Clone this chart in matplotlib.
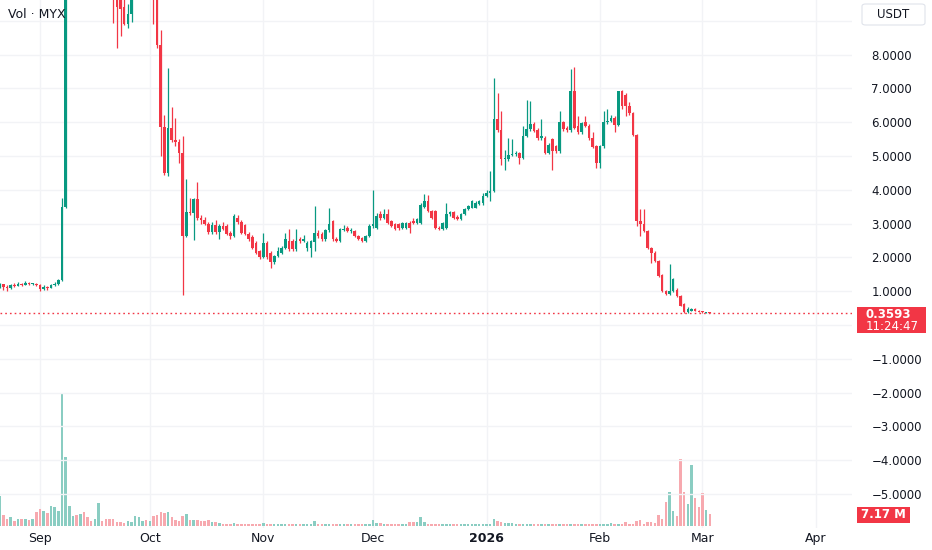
import numpy as np
import pandas as pd
import matplotlib
matplotlib.use("Agg")
import matplotlib.pyplot as plt
import matplotlib.dates as mdates
from matplotlib.patches import Rectangle, FancyBboxPatch

# ---------------- data ----------------
start_date = "2025-08-21"

opens = [1.15,1.20,1.12,1.08,1.18,1.16,1.22,1.19,1.24,1.20,1.22,1.18,1.06,1.12,1.10,1.18,1.22,1.32,3.50,11.5,
         14.0,15.0,13.0,14.5,13.0,12.0,11.5,12.5,15.0,13.5,12.0,11.0,10.2,9.7,9.4,8.9,9.2,10.5,11.5,13.0,
         14.0,13.0,13.5,10.5,8.29,5.87,4.5,5.83,5.47,5.4,5.1,2.63,3.35,3.30,3.72,3.18,3.10,2.98,2.74,2.95,
         2.74,2.93,2.93,2.73,2.62,3.18,3.05,2.95,2.68,2.60,2.44,2.19,2.0,2.44,2.14,1.85,2.04,2.14,2.29,2.49,
         2.49,2.24,2.54,2.49,2.29,2.29,2.45,2.73,2.70,2.54,2.80,3.07,2.54,2.49,2.82,2.88,2.78,2.78,2.63,2.58,
         2.49,2.63,2.93,2.88,3.27,3.18,3.27,3.08,2.98,2.98,2.86,2.88,3.03,3.08,3.03,3.03,3.50,3.67,3.37,3.37,
         2.88,2.85,2.88,3.27,3.34,3.20,3.13,3.27,3.44,3.47,3.47,3.57,3.62,3.81,3.91,3.96,6.10,5.78,4.90,4.90,
         5.04,5.07,5.09,4.95,5.60,5.80,5.96,5.78,5.52,5.54,5.09,5.49,5.29,5.14,6.0,5.83,5.76,6.91,5.88,5.70,
         6.0,5.90,5.52,5.29,4.80,5.29,6.0,6.05,6.13,5.93,6.91,6.80,6.47,6.27,5.63,3.08,2.98,2.78,2.29,2.14,
         1.90,1.48,1.01,0.91,1.01,1.05,0.86,0.62,0.37,0.42,0.48,0.42,0.38,0.36,0.37]
highs = [1.25,1.22,1.18,1.22,1.24,1.27,1.25,1.30,1.26,1.25,1.24,1.20,1.18,1.16,1.22,1.26,1.35,3.75,12.0,14.5,
         15.5,15.8,15.0,15.0,13.5,12.5,13.0,16.0,15.5,14.0,12.5,11.5,10.5,10.0,9.8,9.5,10.8,12.0,13.5,14.5,
         14.5,14.0,14.0,11.0,8.73,6.2,7.6,6.45,6.13,5.5,5.6,4.33,3.77,3.75,4.22,3.25,3.20,3.05,3.05,3.10,
         2.98,3.05,2.98,2.78,3.27,3.25,3.10,3.0,2.75,2.65,2.50,2.22,2.73,2.48,2.18,2.08,2.30,2.35,2.73,2.83,
         2.55,2.83,2.60,2.65,2.50,2.52,3.52,2.80,2.75,2.85,3.45,3.10,2.60,2.88,2.95,2.92,2.88,2.82,2.66,2.60,
         2.66,3.0,3.99,3.30,3.37,3.44,3.44,3.12,3.02,3.02,3.06,3.06,3.08,3.18,3.16,3.60,3.88,3.85,3.40,3.40,
         2.92,3.06,3.62,3.38,3.38,3.25,3.30,3.47,3.55,3.70,3.66,3.70,3.90,4.0,4.55,7.31,6.86,6.32,5.19,5.54,
         5.49,5.15,5.12,5.88,6.67,6.62,6.0,5.82,6.10,5.60,5.38,5.52,5.32,6.32,6.05,5.88,7.58,7.63,6.17,6.02,
         6.17,5.95,5.70,5.32,5.32,6.32,6.40,6.20,6.17,6.93,6.96,6.86,6.59,6.30,5.66,3.44,3.44,2.82,2.32,2.18,
         1.93,1.52,1.05,1.80,1.40,1.08,0.90,0.65,0.52,0.50,0.50,0.44,0.40,0.38,0.375]
lows = [1.10,1.05,1.02,1.06,1.12,1.14,1.16,1.17,1.17,1.18,1.15,1.00,1.03,1.05,1.08,1.15,1.18,1.30,3.45,11.0,
        13.5,12.5,12.5,12.8,11.5,11.0,11.2,12.2,13.0,11.8,10.5,8.94,8.2,8.55,8.88,8.8,8.95,10.2,11.0,12.5,
        12.5,12.0,8.9,8.2,4.99,4.45,4.42,5.4,5.3,4.8,0.88,2.6,3.25,2.52,3.1,3.0,2.95,2.70,2.68,2.70,
        2.54,2.80,2.65,2.55,2.60,3.0,2.70,2.65,2.48,2.25,2.10,1.95,1.97,1.95,1.70,1.80,2.0,2.10,2.25,2.20,
        2.20,2.20,2.44,2.45,2.20,2.0,2.20,2.58,2.50,2.50,2.75,2.50,2.45,2.45,2.78,2.74,2.72,2.60,2.52,2.45,
        2.46,2.60,2.88,2.85,3.12,3.15,3.0,2.90,2.80,2.82,2.84,2.85,2.73,3.0,3.0,3.0,3.45,3.35,3.15,2.85,
        2.80,2.82,2.85,3.22,3.15,3.10,3.10,3.25,3.40,3.45,3.45,3.55,3.55,3.78,3.67,3.94,5.70,4.72,4.60,4.85,
        5.0,5.0,4.77,4.92,5.55,5.75,5.70,5.48,5.48,5.05,5.05,4.60,5.10,5.10,5.75,5.72,5.72,5.80,5.65,5.66,
        5.86,5.48,5.24,4.65,4.65,5.25,5.95,6.0,5.70,5.90,6.40,6.17,6.22,5.60,2.93,2.63,2.74,2.25,1.83,1.86,
        1.42,0.98,0.88,0.88,0.98,0.84,0.55,0.36,0.35,0.40,0.40,0.37,0.36,0.355,0.35]
closes = [1.20,1.12,1.08,1.18,1.16,1.22,1.19,1.24,1.20,1.22,1.18,1.06,1.12,1.10,1.18,1.22,1.32,3.50,11.5,14.0,
          15.0,13.0,14.5,13.0,12.0,11.5,12.5,15.0,13.5,12.0,11.0,10.2,9.4,9.35,8.9,9.2,10.5,11.5,13.0,14.0,
          13.0,13.5,10.5,8.29,5.87,4.5,5.83,5.47,5.4,5.1,2.63,3.33,3.30,3.72,3.18,3.10,2.98,2.74,2.95,2.74,
          2.93,2.83,2.68,2.62,3.22,3.05,2.73,2.68,2.54,2.29,2.14,2.0,2.44,2.0,1.85,2.04,2.19,2.29,2.54,2.24,
          2.24,2.49,2.49,2.54,2.44,2.49,2.73,2.62,2.54,2.80,3.0,2.54,2.50,2.83,2.85,2.78,2.80,2.63,2.55,2.49,
          2.63,2.93,2.98,3.22,3.18,3.27,3.03,2.93,2.83,2.86,3.03,3.03,2.86,3.03,3.13,3.55,3.67,3.37,3.18,2.88,
          2.85,3.03,3.27,3.34,3.18,3.13,3.27,3.44,3.52,3.67,3.62,3.67,3.81,3.91,3.96,6.10,5.78,4.90,4.95,5.04,
          5.07,5.09,4.95,5.60,5.80,5.96,5.73,5.52,5.60,5.09,5.34,5.14,5.14,6.0,5.80,5.76,6.91,5.83,5.70,5.98,
          5.90,5.52,5.27,4.80,5.29,6.0,6.05,6.13,5.93,6.91,6.47,6.47,6.27,5.63,3.08,2.98,2.78,2.29,2.14,1.90,
          1.45,1.01,0.91,1.01,1.36,0.86,0.57,0.37,0.47,0.48,0.42,0.38,0.37,0.37,0.3593]
volumes_m = [18.2,6.6,4.2,5.2,3.2,4.2,4.2,4.2,3.8,4.2,8.2,10.2,9.2,7.6,12.2,11.6,9.2,79.8,41.8,12.2,
             5.8,6.6,7.2,8.6,5.6,3.2,4.2,13.8,3.2,4.2,4.2,4.2,2.6,2.2,1.8,3.2,2.2,6.2,5.2,3.2,
             3.6,3.2,6.2,6.6,8.2,7.8,8.2,5.2,3.8,2.8,6.2,7.2,3.6,3.6,3.6,3.2,3.2,3.6,2.6,2.2,
             1.6,1.4,1.2,1.4,1.6,1.2,1.4,1.2,1.0,1.2,1.4,1.2,1.6,1.2,1.0,1.2,1.4,1.2,1.0,1.2,
             1.0,1.2,1.4,1.2,1.0,1.2,2.8,1.2,1.0,1.2,1.4,1.2,1.0,1.2,1.0,1.2,1.0,1.0,1.2,1.0,
             1.2,1.4,3.6,1.8,1.6,1.2,1.2,1.0,1.2,1.0,1.2,1.2,2.2,2.2,2.2,5.2,2.6,1.4,1.2,1.0,
             1.2,1.0,1.2,1.0,1.2,1.0,1.0,1.2,1.0,1.2,1.0,1.2,1.0,1.2,1.4,4.2,3.2,2.6,1.6,1.6,
             1.6,1.2,1.0,1.2,1.0,1.2,1.0,1.2,1.0,1.2,1.0,1.0,1.2,1.0,1.2,1.0,1.2,1.0,1.0,1.2,
             1.0,1.2,1.0,1.2,1.4,1.2,1.2,1.8,1.2,1.2,1.2,2.2,1.2,1.2,3.2,3.6,1.2,2.2,2.2,1.8,
             6.8,4.2,14.2,20.6,9.2,6.2,40.2,20.6,13.2,36.6,17.0,11.4,19.6,9.8,7.17]

month_ticks = ["2025-09-01", "2025-10-01", "2025-11-01", "2025-12-01",
               "2026-01-01", "2026-02-01", "2026-03-01", "2026-04-01"]
month_labels = ["Sep", "Oct", "Nov", "Dec", "2026", "Feb", "Mar", "Apr"]
price_ticks = [8, 7, 6, 5, 4, 3, 2, 1, -1, -2, -3, -4, -5]
last_price = 0.3593
countdown = "11:24:47"
vol_label = "7.17 M"
title = "Vol · MYX"
currency = "USDT"

# ---------------- styling ----------------
GREEN = "#089981"
RED = "#F23645"
VGREEN = "#8ACDC2"
VRED = "#F7A9AF"
GRID = "#F2F3F6"
TXT = "#131722"

W, H = 932, 550
fig = plt.figure(figsize=(W / 100, H / 100), dpi=100)
fig.patch.set_facecolor("white")

ax_right_px, ax_bottom_px = 852, 528
pos = [0, 1 - ax_bottom_px / H, ax_right_px / W, ax_bottom_px / H]
axv = fig.add_axes(pos)
ax = axv.twinx()
ax.set_position(pos)
axv.set_position(pos)

dates = pd.date_range(start_date, periods=len(opens), freq="D")
xd = mdates.date2num(dates.to_pydatetime())
o = np.array(opens); h = np.array(highs); l = np.array(lows); c = np.array(closes)
v = np.array(volumes_m)
up = c >= o

sep1 = mdates.date2num(pd.Timestamp("2025-09-01").to_pydatetime())
ppd = 3.66  # pixels per day
axv.set_xlim(sep1 - 40 / ppd, sep1 + (ax_right_px - 40) / ppd)

# price scale: 0 at y=325 px, 33.8 px per unit
zero_px, ppu = 325.0, 33.8
ax.set_ylim(-(ax_bottom_px - zero_px) / ppu, zero_px / ppu)
# volume scale: 80M ~ 133 px
vpp = 80.0 / 133.0
axv.set_ylim(-2 * vpp, (ax_bottom_px - 2) * vpp)

# gridlines
for yv in range(-5, 10):
    ax.axhline(yv, color=GRID, lw=1.0, zorder=0)
mt = mdates.date2num(pd.to_datetime(month_ticks).to_pydatetime())
for xm in mt:
    axv.axvline(xm, color=GRID, lw=1.0, zorder=0)

# volume bars
axv.bar(xd, v, width=0.68, color=np.where(up, VGREEN, VRED), linewidth=0, zorder=2)

# candles
cols = np.where(up, GREEN, RED)
ax.vlines(xd, l, h, colors=cols, linewidth=0.9, zorder=3)
body_lo = np.minimum(o, c)
body_h = np.maximum(np.abs(c - o), 0.03)
ax.bar(xd, body_h, bottom=body_lo, width=0.70, color=cols, linewidth=0, zorder=4)

# last price dotted line
ax.axhline(last_price, color=RED, lw=1.0, ls=(0, (1.2, 2.2)), zorder=5)

# axes styling
for a in (ax, axv):
    for s in a.spines.values():
        s.set_visible(False)
axv.set_yticks([])
axv.set_xticks(mt)
axv.set_xticklabels(month_labels)
axv.tick_params(axis="x", length=0, pad=3, labelsize=9, labelcolor=TXT)
for lab in axv.get_xticklabels():
    if lab.get_text() == "2026":
        lab.set_fontweight("bold")
ax.tick_params(axis="x", length=0, labelbottom=False, labeltop=False)
ax.yaxis.tick_right()
ax.set_yticks(price_ticks)
ax.set_yticklabels([("\u2212" if t < 0 else "") + f"{abs(t):.4f}" for t in price_ticks])
ax.tick_params(axis="y", length=0, pad=14, labelsize=8.5, labelcolor=TXT)

# title
fig.text(8 / W, 1 - 15 / H, title, fontsize=9, color=TXT, va="center", ha="left")

# currency box
fig.add_artist(FancyBboxPatch((862 / W, 1 - 25 / H), 63 / W, 21 / H,
                              boxstyle="round,pad=0,rounding_size=0.004",
                              transform=fig.transFigure, facecolor="white",
                              edgecolor="#E0E3EB", linewidth=0.8))
fig.text(893 / W, 1 - 14.5 / H, currency, fontsize=8.5, color=TXT, ha="center", va="center")

# last price box
fig.add_artist(Rectangle((857 / W, 1 - 333 / H), 69 / W, 26 / H,
                         transform=fig.transFigure, facecolor=RED, edgecolor="none"))
fig.text(866 / W, 1 - 314 / H, f"{last_price:.4f}", fontsize=8.5, color="white",
         ha="left", va="center", fontweight="bold")
fig.text(866 / W, 1 - 326.5 / H, countdown, fontsize=8.5, color="white",
         ha="left", va="center")

# volume box
fig.add_artist(Rectangle((857 / W, 1 - 523 / H), 53 / W, 16 / H,
                         transform=fig.transFigure, facecolor=RED, edgecolor="none"))
fig.text(883.5 / W, 1 - 515 / H, vol_label, fontsize=8.5, color="white",
         ha="center", va="center", fontweight="bold")

fig.savefig("out.png", dpi=100, facecolor="white")
